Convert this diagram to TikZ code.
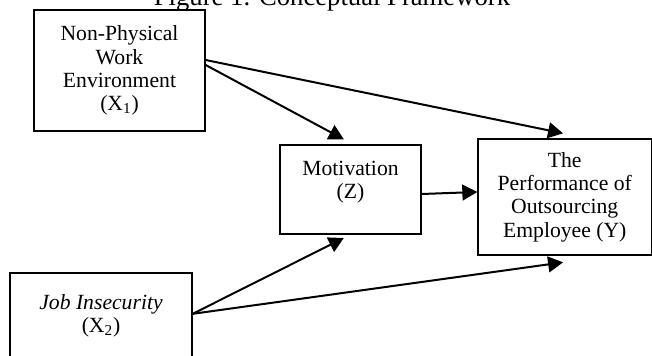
\documentclass[tikz,border=0pt]{standalone}
\usepackage{fontspec}
\setmainfont{Liberation Serif}
\usetikzlibrary{positioning, arrows.meta}

\begin{document}
\begin{tikzpicture}[
            x=0.6pt, y=-0.6pt,
            factor/.style={draw=black, line width=0.8pt, rectangle, align=center, inner sep=0pt, font=\fontsize{13pt}{14pt}\selectfont},
            factortext/.style={align=center, inner sep=0pt, font=\fontsize{13pt}{14pt}\selectfont},
            edge/.style={line width=1.2pt, -{Triangle[length=9pt, width=9.5pt]}},
            caption/.style={font=\fontsize{16pt}{19pt}\selectfont}
        ]
        \clip (0,0) rectangle (652,356);

        % Titel
        \node[caption, anchor=base] (title) at (332,5.5) {Figure 1. Conceptual Framework};

        % Knoten
        \node[factor, minimum width=102.6pt, minimum height=72.6pt] (x1) at (119.5,70.5) {Non-Physical\\Work\\Environment\\(X\textsubscript{1})};
        \node[factor, minimum width=84.6pt, minimum height=53.4pt] (z) at (350.5,189.5) {};
        \node[factortext] (ztext) at (350.5,182) {Motivation\\(Z)};
        \node[factor, minimum width=104.1pt, minimum height=69.6pt] (y) at (564.75,197) {The\\Performance of\\Outsourcing\\Employee (Y)};
        \node[factor, minimum width=109.2pt, minimum height=51pt] (x2) at (101,315.5) {\textit{Job Insecurity}\\(X\textsubscript{2})};

        % Kanten
        \draw[edge] ([yshift=6.3pt]x1.east) -- ([xshift=-1pt, yshift=3pt]y.north);
        \draw[edge] ([yshift=3.3pt]x1.east) -- ([xshift=-4pt, yshift=3pt]z.north);
        \draw[edge] ([yshift=-2.7pt]z.east) -- ([yshift=3pt]y.west);
        \draw[edge] ([yshift=1pt]x2.east) -- ([xshift=-4pt, yshift=-2pt]z.south);
        \draw[edge] ([yshift=1pt]x2.east) -- ([xshift=-1pt, yshift=-4pt]y.south);

    \end{tikzpicture}
\end{document}
